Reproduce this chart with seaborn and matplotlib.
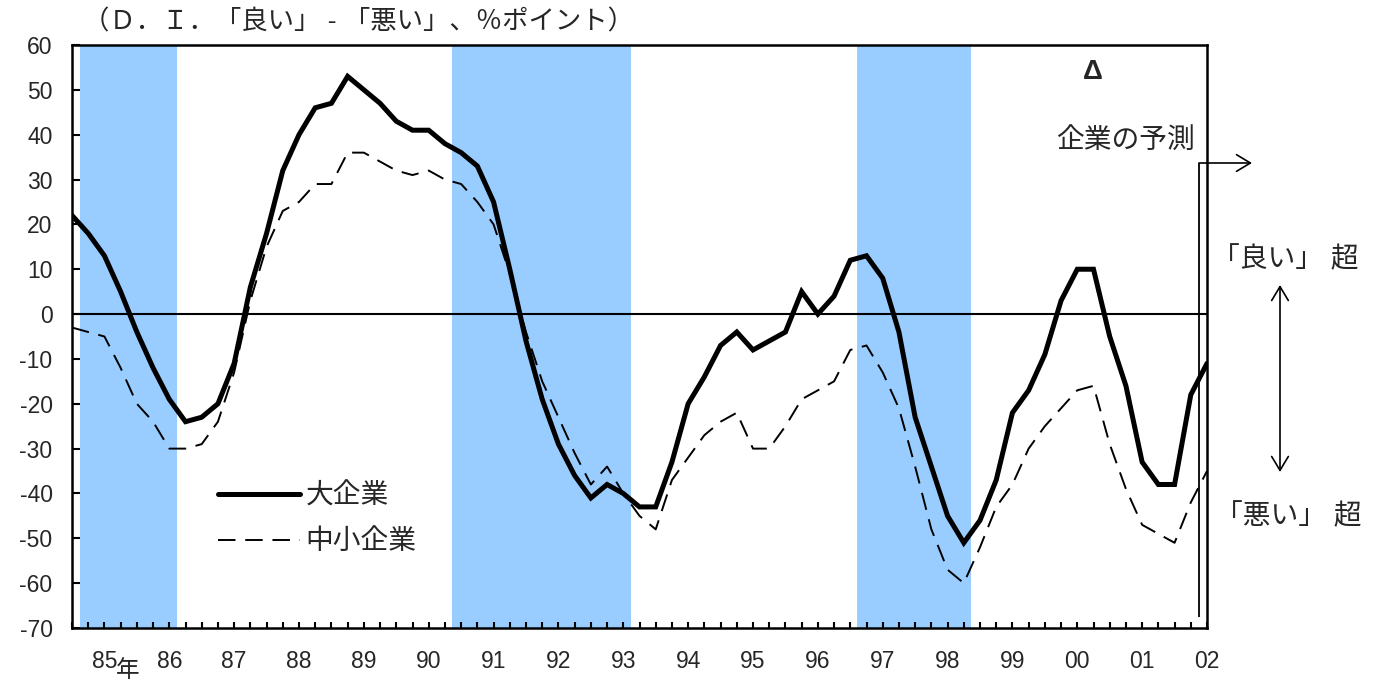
import numpy as np
import pandas as pd
import matplotlib
matplotlib.use("Agg")
import matplotlib.pyplot as plt
import seaborn as sns
from matplotlib.patches import FancyArrowPatch

# ---------------- data (quarterly, from 1984 Q3 to 2002 Q1) ----------------
large = [22, 18, 13, 5, -4, -12, -19, -24, -23, -20,
         -11, 6, 18, 32, 40, 46, 47, 53, 50, 47,
         43, 41, 41, 38, 36, 33, 25, 10, -6, -19,
         -29, -36, -41, -38, -40, -43, -43, -33, -20, -14,
         -7, -4, -8, -6, -4, 5, 0, 4, 12, 13,
         8, -4, -23, -34, -45, -51, -46, -37, -22, -17,
         -9, 3, 10, 10, -5, -16, -33, -38, -38, -18,
         -11]
small = [-3, -4, -5, -12, -20, -24, -30, -30, -29, -24,
         -13, 3, 15, 23, 25, 29, 29, 36, 36, 34,
         32, 31, 32, 30, 29, 25, 20, 9, -4, -15,
         -23, -31, -38, -34, -40, -45, -48, -37, -32, -27,
         -24, -22, -30, -30, -25, -19, -17, -15, -8, -7,
         -13, -21, -34, -48, -57, -60, -52, -43, -38, -30,
         -25, -21, -17, -16, -29, -39, -47, -49, -51, -42,
         -35]
year_labels = ["85", "86", "87", "88", "89", "90", "91", "92", "93",
               "94", "95", "96", "97", "98", "99", "00", "01", "02"]
first_label_q = 2          # quarter index of the "85" label
recession_start = [0.5, 23.45, 48.4]
recession_end = [6.5, 34.5, 55.45]
forecast_q = 69.5
series_names = ["大企業", "中小企業"]

# ---------------- style ----------------
sns.set_style("white")
plt.rcParams["font.family"] = ["Liberation Sans", "Noto Sans CJK JP", "DejaVu Sans"]
plt.rcParams["axes.unicode_minus"] = False

W, H = 1375, 681
def fx(px):
    return px / W
def fy(py):
    return 1 - py / H

fig = plt.figure(figsize=(W / 100, H / 100), dpi=100)
ax = fig.add_axes([fx(72), fy(628), fx(1207) - fx(72), fy(45) - fy(628)])

quarters = np.arange(len(large))
df = pd.DataFrame({"q": quarters, series_names[0]: large, series_names[1]: small})

for s, e in zip(recession_start, recession_end):
    ax.axvspan(s, e, color="#99CCFF", lw=0, zorder=0)
ax.axhline(0, color="black", lw=1.5, zorder=1)

sns.lineplot(data=df, x="q", y=series_names[0], ax=ax, color="black", lw=3.6,
             label=series_names[0], zorder=3, solid_joinstyle="miter",
             solid_capstyle="round")
sns.lineplot(data=df, x="q", y=series_names[1], ax=ax, color="black", lw=1.4,
             linestyle=(0, (9, 5)), label=series_names[1], zorder=2)

ax.set_xlim(0, len(large) - 1)
ax.set_ylim(-70, 60)
ax.set_yticks(np.arange(-70, 61, 10))
ax.set_xticks(quarters)
xt = [""] * len(quarters)
for k, lab in enumerate(year_labels):
    pos = first_label_q + 4 * k
    if pos < len(xt):
        xt[pos] = lab
ax.set_xticklabels(xt)
ax.set_xlabel("")
ax.set_ylabel("")
ax.tick_params(axis="x", direction="in", length=4.5, width=1.5, pad=16,
               labelsize=16.5, color="black", bottom=True)
ax.tick_params(axis="y", direction="in", length=6, width=1.5, pad=14,
               labelsize=16.5, color="black", left=True)
for sp in ax.spines.values():
    sp.set_linewidth(1.8)
    sp.set_color("black")
ax.grid(False)

handles, labels = ax.get_legend_handles_labels()
ax.legend(handles, labels, loc="upper left", bbox_to_anchor=(fx(218), fy(483)),
          bbox_transform=fig.transFigure, frameon=False, fontsize=20,
          handlelength=2.95, handletextpad=0.2, labelspacing=0.72,
          borderpad=0, borderaxespad=0)

# ---------------- annotations ----------------
fig.text(fx(83), fy(22), "（Ｄ．Ｉ．「良い」 - 「悪い」、％ポイント）",
         ha="left", va="center", fontsize=19)
fig.text(fx(128), fy(660), "年", ha="center", va="top", fontsize=17)
fig.text(fx(1093), fy(72), "Δ", ha="center", va="center", fontsize=20,
         fontweight="bold")
fig.text(fx(1195), fy(141), "企業の予測", ha="right", va="center", fontsize=20)
fig.text(fx(1212), fy(260), "「良い」 超", ha="left", va="center", fontsize=20)
fig.text(fx(1215), fy(517), "「悪い」 超", ha="left", va="center", fontsize=20)

ax.vlines(forecast_q, -67.5, 33.7, color="black", lw=1.3, zorder=4)
fig.add_artist(FancyArrowPatch((fx(1199), fy(163)), (fx(1252), fy(163)),
                               transform=fig.transFigure,
                               arrowstyle="->,head_length=0.5,head_width=0.3",
                               mutation_scale=20, lw=1.2, color="black",
                               shrinkA=0, shrinkB=0))
fig.add_artist(FancyArrowPatch((fx(1280), fy(285)), (fx(1280), fy(472)),
                               transform=fig.transFigure,
                               arrowstyle="<->,head_length=0.5,head_width=0.3",
                               mutation_scale=20, lw=1.2, color="black",
                               shrinkA=0, shrinkB=0))

fig.savefig("out.png", dpi=100)
